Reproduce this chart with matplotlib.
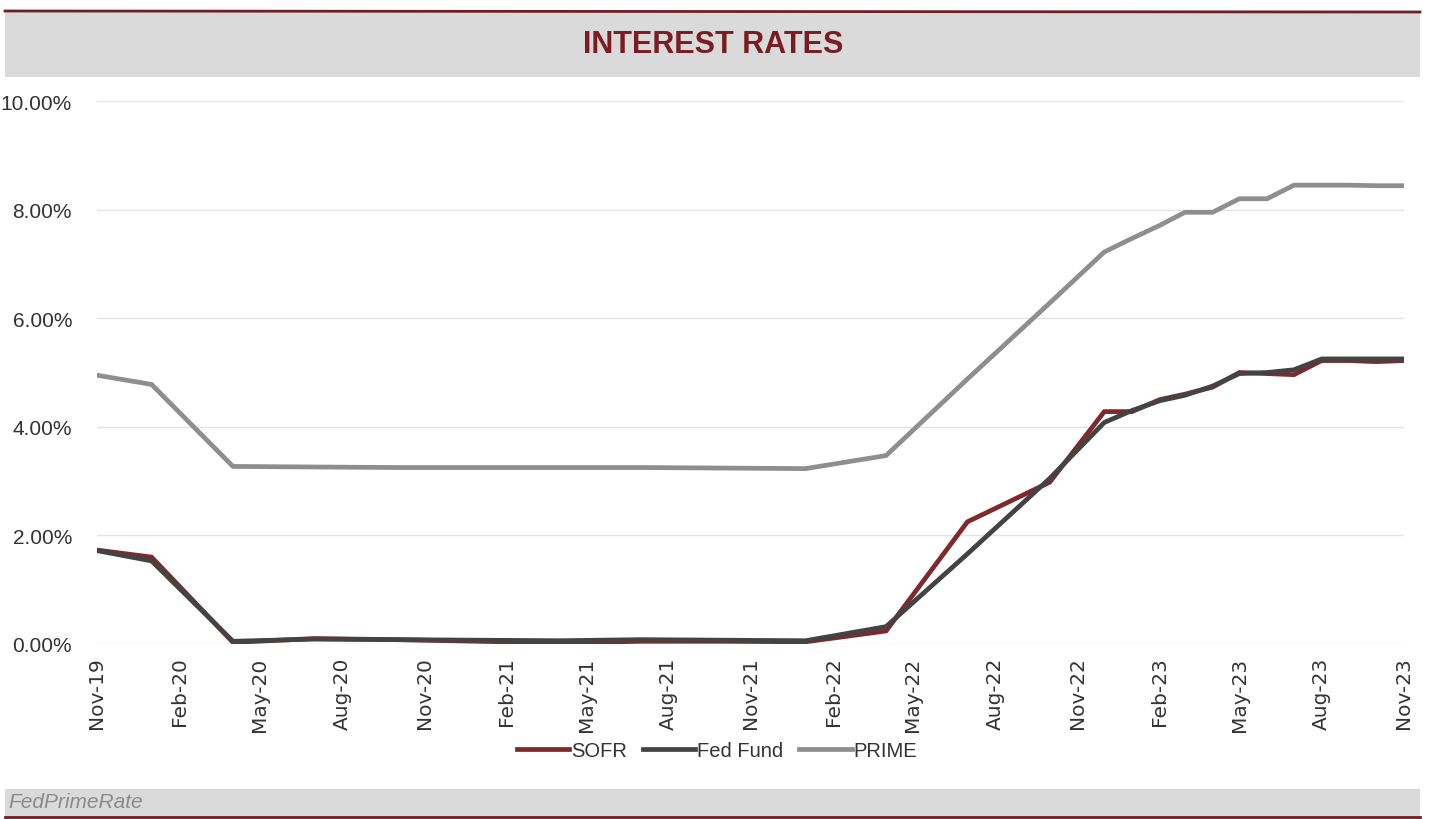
import matplotlib
matplotlib.use("Agg")
import matplotlib.pyplot as plt
import matplotlib.dates as mdates
from matplotlib.patches import Rectangle
from matplotlib.lines import Line2D
import pandas as pd

# observation dates (vertices of the lines)
dates = pd.to_datetime([
    "2019-11-01", "2020-01-01", "2020-04-01", "2020-07-01", "2020-10-01",
    "2021-01-01", "2021-04-01", "2021-07-01", "2021-10-01", "2022-01-01",
    "2022-04-01", "2022-07-01", "2022-10-01", "2022-12-01", "2023-01-01",
    "2023-02-01", "2023-03-01", "2023-04-01", "2023-05-01", "2023-06-01",
    "2023-07-01", "2023-08-01", "2023-09-01", "2023-10-01", "2023-11-01",
])

sofr = [1.73, 1.60, 0.03, 0.10, 0.08, 0.05, 0.02, 0.05, 0.05, 0.04,
        0.24, 2.25, 2.98, 4.28, 4.28, 4.50, 4.60, 4.73, 5.00, 4.98,
        4.96, 5.22, 5.22, 5.20, 5.22]
fed_fund = [1.72, 1.53, 0.05, 0.09, 0.08, 0.07, 0.06, 0.08, 0.07, 0.06,
            0.32, 1.66, 3.05, 4.08, 4.30, 4.48, 4.58, 4.75, 4.98, 5.00,
            5.05, 5.25, 5.25, 5.25, 5.25]
prime = [4.95, 4.78, 3.27, 3.26, 3.25, 3.25, 3.25, 3.25, 3.24, 3.23,
         3.47, 4.88, 6.28, 7.22, 7.47, 7.71, 7.95, 7.95, 8.20, 8.20,
         8.45, 8.45, 8.45, 8.44, 8.44]

series_names = ["SOFR", "Fed Fund", "PRIME"]
series_colors = ["#7e2a2c", "#434343", "#8e8e8e"]

W, H = 1434, 820
fig = plt.figure(figsize=(W / 100, H / 100), dpi=100)
fig.patch.set_facecolor("white")

# header / footer bands
fig.patches.append(Rectangle((5 / W, (H - 78) / H), 1415 / W, 66 / H,
                             transform=fig.transFigure, facecolor="#dadada",
                             edgecolor="none", zorder=0))
fig.add_artist(Line2D([5 / W, 1420 / W], [(H - 12) / H, (H - 13) / H],
                      transform=fig.transFigure, color="#6e1f24", lw=2))
fig.patches.append(Rectangle((5 / W, 2 / H), 1415 / W, 28 / H,
                             transform=fig.transFigure, facecolor="#dadada",
                             edgecolor="none", zorder=0))
fig.add_artist(Line2D([5 / W, 1420 / W], [2 / H, 2 / H],
                      transform=fig.transFigure, color="#6e1f24", lw=2))

fig.text(0.497, (H - 45) / H, "INTEREST RATES", ha="center", va="center",
         fontsize=22, fontweight="bold", color="#7b1c22",
         family="Liberation Sans")
fig.text(8 / W, (H - 803) / H, "FedPrimeRate", ha="left", va="center",
         fontsize=15, style="italic", color="#8a8a8a", family="Liberation Sans")

ax = fig.add_axes([97 / W, 175 / H, 1307 / W, 543 / H])
for vals, name, col in zip([sofr, fed_fund, prime], series_names, series_colors):
    ax.plot(dates, vals, color=col, lw=3.4, label=name, solid_joinstyle="miter")

ax.set_xlim(pd.Timestamp("2019-11-01"), pd.Timestamp("2023-11-01"))
ax.set_ylim(0, 10)
ax.set_yticks([0, 2, 4, 6, 8, 10])
ax.set_yticklabels([f"{v:.2f}%" for v in [0, 2, 4, 6, 8, 10]])
ax.xaxis.set_major_locator(mdates.MonthLocator(bymonth=[2, 5, 8, 11]))
ax.xaxis.set_major_formatter(mdates.DateFormatter("%b-%y"))
ax.tick_params(axis="x", rotation=90, length=0, pad=9, labelsize=14.5,
               labelcolor="#333333")
ax.tick_params(axis="y", length=0, pad=18, labelsize=15, labelcolor="#333333")
for lbl in ax.get_yticklabels():
    lbl.set_family("Liberation Sans")
ax.grid(axis="y", color="#e4e4e4", lw=1)
ax.set_axisbelow(True)
for s in ax.spines.values():
    s.set_visible(False)

fig.legend(*ax.get_legend_handles_labels(), loc="center", ncol=3,
           bbox_to_anchor=(0.5, (H - 752) / H), frameon=False,
           handlelength=2.6, handletextpad=0.1, columnspacing=0.8,
           labelcolor="#333333",
           prop={"family": "Liberation Sans", "size": 14.5})

fig.savefig("out.png", dpi=100)
